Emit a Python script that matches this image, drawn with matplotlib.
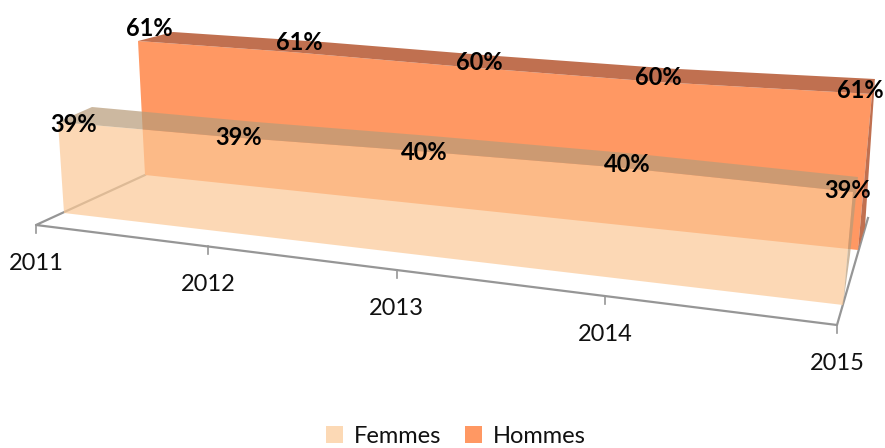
import numpy as np
import matplotlib
matplotlib.use('Agg')
import matplotlib.pyplot as plt
from matplotlib.patches import Polygon, Patch

years = ['2011', '2012', '2013', '2014', '2015']
femmes = [39, 39, 40, 40.4, 39]
hommes = [61, 61, 60, 59.6, 61]

plt.rcParams['font.family'] = ['Lato', 'DejaVu Sans']

last = len(years) - 1
depth_k = 1.22  # foreshortening along the category axis


def along(t):
    u = t / last
    return u / (u + depth_k * (1 - u))


def project(plane, t, v=0):
    # plane = (base left, base right, top right, top left, value of the top edge), in pixels
    bl, br, tr, tl, vref = plane
    s = along(t)
    bottom = np.array(bl) + s * (np.array(br) - np.array(bl))
    top = np.array(tl) + s * (np.array(tr) - np.array(tl))
    return tuple(bottom + (v / vref) * (top - bottom))


# box calibration in pixels
fem_front = ((64, 213), (843, 305), (853, 192), (58, 122), 39)
fem_back = ((98, 190), (850, 255), (858, 177), (92, 107), 39)
hom_front = ((145, 175), (858, 250), (872, 94), (138, 41), 61)
hom_back = ((180, 160), (865, 227), (875, 79), (173, 32), 61)
axis_left, axis_right = np.array((36, 225)), np.array((837, 325))
wall_left, wall_right = (145, 175), (868, 218)

fig = plt.figure(figsize=(8.85, 4.48), dpi=100)
ax = fig.add_axes([0, 0, 1, 1])
ax.set_xlim(0, 885)
ax.set_ylim(448, 0)
ax.axis('off')

# floor edges and ticks
axis_color = '#969696'
ax.plot(*zip(wall_left, axis_left, axis_right, wall_right), color=axis_color, lw=1.6, zorder=1)
for i, year in enumerate(years):
    x, y = axis_left + along(i) * (axis_right - axis_left)
    ax.plot([x, x], [y, y + 8], color=axis_color, lw=1.2, zorder=1)
    ax.text(x, y + 38, year, ha='center', va='center', fontsize=17, color='#111111')


def draw_series(values, front, back, face, top, alpha, z):
    n = len(values)
    base = [project(front, i) for i in range(n)]
    tops = [project(front, i, values[i]) for i in range(n)]
    tops_back = [project(back, i, values[i]) for i in range(n)]
    ax.add_patch(Polygon(base + tops[::-1], fc=face, ec='none', alpha=alpha, zorder=z))
    ax.add_patch(Polygon(tops + tops_back[::-1], fc=top, ec='none', alpha=alpha, zorder=z))
    side = [base[-1], tops[-1], tops_back[-1], project(back, n - 1)]
    ax.add_patch(Polygon(side, fc=top, ec='none', alpha=alpha, zorder=z))


draw_series(hommes, hom_front, hom_back, '#FF9863', '#C07050', 1.0, 2)
draw_series(femmes, fem_front, fem_back, '#FBC997', '#B89C79', 0.71, 3)


def draw_labels(values, front, offsets):
    for i, v in enumerate(values):
        x, y = project(front, i, v)
        ax.text(x + offsets[i][0], y + offsets[i][1], '%.0f%%' % v, ha='center', va='center',
                fontsize=17, fontweight='bold', color='black', zorder=5)


draw_labels(hommes, hom_front, [(11, -13), (4, -10), (11, -5), (-1, -5), (-12, -3)])
draw_labels(femmes, fem_front, [(16, 2), (10, 0), (8, 2), (4, -3), (-5, -2)])

handles = [Patch(fc='#FCD9B5', ec='none', label='Femmes'), Patch(fc='#FF9863', ec='none', label='Hommes')]
ax.legend(handles=handles, loc='center', bbox_to_anchor=(456 / 885, 1 - 436.5 / 448), ncol=2, frameon=False,
          fontsize=17, handlelength=0.72, handleheight=0.72, handletextpad=0.45, columnspacing=1.0,
          labelcolor='#111111', borderpad=0)

fig.savefig('out.png', dpi=100)
plt.close(fig)
